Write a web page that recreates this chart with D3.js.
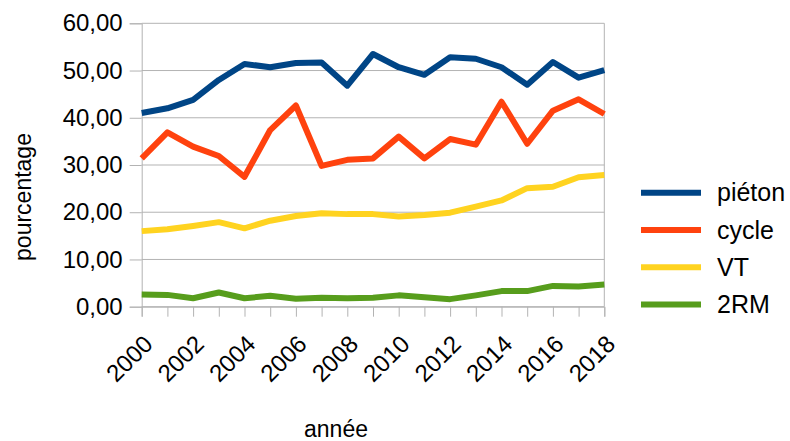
<!DOCTYPE html>
<html>
<head>
<meta charset="utf-8">
<script src="https://cdn.jsdelivr.net/npm/d3@7"></script>
<style>
  body { margin: 0; background: #fff; }
  text { font-family: "Liberation Sans", Arial, sans-serif; fill: #000; }
</style>
</head>
<body>
<svg id="chart"></svg>
<script>
var years = d3.range(2000, 2019);

var pieton = [41.0, 42.0, 43.8, 48.0, 51.4, 50.7, 51.6, 51.7, 46.8, 53.5, 50.7, 49.1, 52.8, 52.5, 50.7, 47.0, 51.8, 48.5, 50.1];
var cycle  = [31.4, 36.9, 33.9, 31.9, 27.5, 37.4, 42.6, 29.8, 31.1, 31.4, 36.0, 31.4, 35.5, 34.3, 43.4, 34.5, 41.5, 43.9, 40.8];
var vt     = [16.0, 16.4, 17.1, 17.9, 16.6, 18.2, 19.2, 19.8, 19.6, 19.6, 19.1, 19.4, 19.9, 21.2, 22.5, 25.1, 25.4, 27.4, 27.9];
var deuxrm = [2.6, 2.5, 1.8, 3.0, 1.8, 2.3, 1.7, 1.9, 1.8, 1.9, 2.4, 2.0, 1.6, 2.4, 3.3, 3.3, 4.4, 4.3, 4.7];

var seriesNames = ["piéton", "cycle", "VT", "2RM"];
var seriesColors = ["#004586", "#ff420e", "#ffd320", "#579d1c"];
var yTicks = [0, 10, 20, 30, 40, 50, 60];
var xLabelYears = d3.range(2000, 2019, 2);

var series = [pieton, cycle, vt, deuxrm].map(function(v, i) {
  return {name: seriesNames[i], color: seriesColors[i], values: v};
});

var width = 790, height = 441;
var plot = {left: 141.7, right: 604.3, top: 23.3, bottom: 306.7};

var svg = d3.select("#chart")
    .attr("width", width)
    .attr("height", height);

var x = d3.scaleLinear()
    .domain([2000, 2018])
    .range([plot.left, plot.right]);

var y = d3.scaleLinear()
    .domain([0, 60])
    .range([plot.bottom, plot.top]);

var fr = d3.formatLocale({decimal: ",", thousands: " ", grouping: [3], currency: ["", " €"]});
var fmt = fr.format(".2f");

// grid
svg.append("g")
  .selectAll("line")
  .data(yTicks)
  .enter().append("line")
    .attr("x1", plot.left)
    .attr("x2", plot.right)
    .attr("y1", function(d) { return y(d); })
    .attr("y2", function(d) { return y(d); })
    .attr("stroke", "#b3b3b3")
    .attr("stroke-width", 1);

// right border of the plot wall
svg.append("line")
    .attr("x1", plot.right).attr("x2", plot.right)
    .attr("y1", plot.top).attr("y2", plot.bottom)
    .attr("stroke", "#b3b3b3");

// y axis
var yAxis = svg.append("g")
    .attr("transform", "translate(" + plot.left + ",0)")
    .call(d3.axisLeft(y).tickValues(yTicks).tickFormat(fmt).tickSize(12).tickPadding(7));

// x axis
var xAxis = svg.append("g")
    .attr("transform", "translate(0," + plot.bottom + ")")
    .call(d3.axisBottom(x).tickValues(years).tickSize(10)
      .tickFormat(function(d) { return xLabelYears.indexOf(d) >= 0 ? d : ""; }));

[yAxis, xAxis].forEach(function(a) {
  a.select(".domain").attr("stroke", "#b3b3b3");
  a.selectAll(".tick line").attr("stroke", "#b3b3b3");
  a.selectAll("text").attr("font-size", 24).attr("fill", "#000")
    .attr("font-family", "'Liberation Sans', Arial, sans-serif");
});

xAxis.selectAll(".tick text")
    .attr("text-anchor", "end")
    .attr("dy", "0.7em")
    .attr("y", 0)
    .attr("transform", "translate(0,27) rotate(-45)");

// lines
var line = d3.line()
    .x(function(d, i) { return x(years[i]); })
    .y(function(d) { return y(d); });

svg.append("g")
  .selectAll("path")
  .data(series)
  .enter().append("path")
    .attr("d", function(d) { return line(d.values); })
    .attr("fill", "none")
    .attr("stroke", function(d) { return d.color; })
    .attr("stroke-width", 6)
    .attr("stroke-linejoin", "round");

// legend
var legend = svg.append("g")
  .selectAll("g")
  .data(series)
  .enter().append("g")
    .attr("transform", function(d, i) { return "translate(641," + (192.7 + i * 37.3) + ")"; });

legend.append("line")
    .attr("x1", 0).attr("x2", 60)
    .attr("stroke", function(d) { return d.color; })
    .attr("stroke-width", 6);

legend.append("text")
    .attr("x", 76)
    .attr("dy", "0.35em")
    .attr("font-size", 25)
    .text(function(d) { return d.name; });

// axis titles
svg.append("text")
    .attr("x", 336)
    .attr("y", 437)
    .attr("text-anchor", "middle")
    .attr("font-size", 23)
    .text("année");

svg.append("text")
    .attr("transform", "translate(31,197) rotate(-90)")
    .attr("text-anchor", "middle")
    .attr("font-size", 23)
    .text("pourcentage");
</script>
</body>
</html>
